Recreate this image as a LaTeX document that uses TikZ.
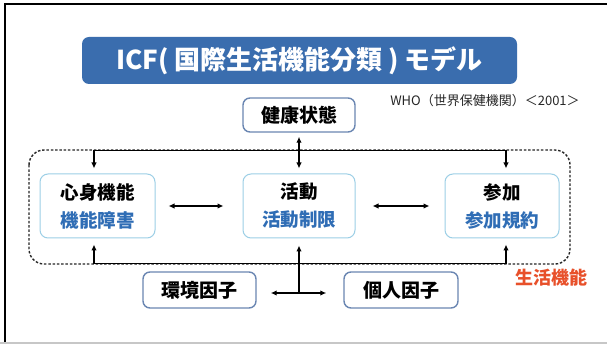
\documentclass[tikz,border=0pt]{standalone}
\usepackage{fontspec}
\setmainfont{Noto Sans CJK JP}
\usetikzlibrary{arrows.meta}
\definecolor{titleblue}{HTML}{3A6DAE}
\definecolor{subblue}{HTML}{2F6DB5}
\definecolor{mainedge}{HTML}{9CCFE6}
\definecolor{darkedge}{HTML}{6A86B2}
\definecolor{lifered}{HTML}{E8502A}
\tikzset{
  arr/.style={line width=1.2pt, -{Latex[length=6pt,width=5.5pt]}},
  darr/.style={line width=1.2pt, {Latex[length=6pt,width=5.5pt]}-{Latex[length=6pt,width=5.5pt]}},
  mainbox/.style={draw=mainedge, line width=1pt, rounded corners=8pt, fill=white,
    align=center, font=\fontsize{18.5}{28}\selectfont\bfseries, inner sep=0pt},
  darkbox/.style={draw=darkedge, line width=1.4pt, rounded corners=7pt, fill=white,
    font=\fontsize{19}{22}\selectfont\bfseries, inner sep=0pt},
}
\begin{document}
\begin{tikzpicture}[x=1pt,y=-1pt]
\useasboundingbox (0,0) rectangle (607,344);
\fill[white] (0,0) rectangle (607,344);
% frame
\draw[line width=2.5pt, black] (5,344) -- (5,4) -- (607,4);
\draw[line width=2pt, black!22] (0,342.5) -- (607,342.5);
% title
\node[fill=titleblue, rounded corners=7pt, minimum width=435pt, minimum height=47pt,
  text=white, font=\fontsize{26}{28}\selectfont\bfseries, inner sep=0pt] (title) at (299.5,60.5)
  {ICF( 国際生活機能分類 ) モデル};
\node[font=\fontsize{13}{15}\selectfont, text=black!85, inner sep=0pt] (who) at (485,101)
  {WHO（世界保健機関）＜2001＞};
% dashed region
\draw[line width=1.4pt, black!85, dash pattern=on 2.5pt off 1.8pt, rounded corners=15pt]
  (29,150) rectangle (570,264);
% boxes
\node[darkbox, minimum width=112pt, minimum height=34pt] (health) at (299,115) {健康状態};
\node[mainbox, minimum width=115pt, minimum height=64pt] (L) at (97.5,206)
  {心身機能\\{\color{subblue}機能障害}};
\node[mainbox, minimum width=112pt, minimum height=64pt] (C) at (299,206)
  {活動\\{\color{subblue}活動制限}};
\node[mainbox, minimum width=114pt, minimum height=64pt] (R) at (502,206)
  {参加\\{\color{subblue}参加規約}};
\node[darkbox, minimum width=113pt, minimum height=36pt] (env) at (199.5,290) {環境因子};
\node[darkbox, minimum width=114pt, minimum height=36pt] (per) at (401,290) {個人因子};
\node[text=lifered, font=\fontsize{18}{20}\selectfont\bfseries, inner sep=0pt] (life) at (551,278) {生活機能};
% connectors
\coordinate (junc) at ([yshift=-3pt]C.south |- env.east);
\draw[darr, shorten <=5pt, shorten >=5pt] ([xshift=-3.5pt]L.north) -- ++(0,-23) -| ([xshift=4pt]R.north);
\draw[darr, shorten <=6pt, shorten >=6pt] ([xshift=-3.5pt]L.south) -- ++(0,25) -| ([xshift=4pt]R.south);
\draw[darr, shorten <=4pt, shorten >=5pt] (health.south) -- (C.north);
\draw[arr, shorten >=7pt] (junc) -- (C.south);
\draw[arr, shorten >=14pt] (junc) -- (junc -| env.east);
\draw[arr, shorten >=17pt] (junc) -- (junc -| per.west);
\draw[darr, shorten <=13pt, shorten >=19pt] (L.east) -- (C.west);
\draw[darr, shorten <=17pt, shorten >=15pt] (C.east) -- (R.west);
\end{tikzpicture}
\end{document}
